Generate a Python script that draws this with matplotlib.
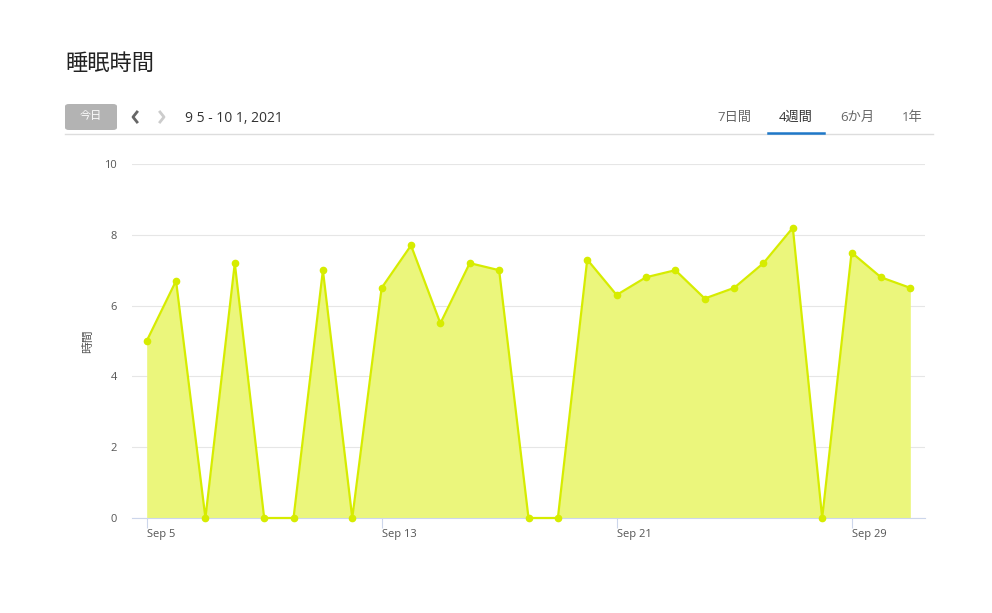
import numpy as np
import matplotlib
matplotlib.use('Agg')
import matplotlib.pyplot as plt
from matplotlib.patches import FancyBboxPatch
from matplotlib.lines import Line2D

W, H = 992, 613

dates = np.arange(np.datetime64('2021-09-05'), np.datetime64('2021-10-02'))
hours = [5.0, 6.7, 0, 7.2, 0, 0, 7.0, 0, 6.5, 7.7, 5.5, 7.2, 7.0, 0,
         0, 7.3, 6.3, 6.8, 7.0, 6.2, 6.5, 7.2, 8.2, 0, 7.5, 6.8, 6.5]
tick_dates = dates[::8]
tick_labels = ['Sep 5', 'Sep 13', 'Sep 21', 'Sep 29']
tabs = ['7日間', '4週間', '6か月', '1年']
tab_x = [734, 796, 857, 912]

LINE = '#d6ec00'
FILL = '#ebf67c'

plt.rcParams['font.family'] = ['Open Sans', 'Noto Sans CJK JP', 'DejaVu Sans']


def px(x, y):
    # pixel (from top-left) to figure fraction
    return x / W, 1 - y / H


fig = plt.figure(figsize=(W / 100, H / 100), dpi=100)
ax = fig.add_axes([132 / W, 1 - 518 / H, (925 - 132) / W, (518 - 164) / H])

ax.fill_between(dates, hours, 0, color=FILL, linewidth=0)
ax.plot(dates, hours, color=LINE, lw=1.6, marker='o', markersize=4.5, clip_on=False, zorder=3)

ax.set_ylim(0, 10)
ax.set_yticks([0, 2, 4, 6, 8, 10])
ax.set_xlim(dates[0] - np.timedelta64(12, 'h'), dates[-1] + np.timedelta64(12, 'h'))
ax.set_xticks(tick_dates)
ax.set_xticklabels(tick_labels, ha='left')
ax.grid(True, axis='y', color='#e6e6e6', lw=0.8)
ax.set_axisbelow(True)
for s in ['top', 'right', 'left']:
    ax.spines[s].set_visible(False)
ax.spines['bottom'].set_color('#ccd6eb')
ax.tick_params(axis='y', length=0, labelsize=8, labelcolor='#555555', pad=11)
ax.tick_params(axis='x', length=7, color='#ccd6eb', labelsize=8, labelcolor='#555555', pad=1)
ax.set_ylabel('時間', fontsize=8.5, color='#555555', labelpad=7)

# header
fig.text(*px(65, 64), '睡眠時間', fontsize=16, color='#222222', va='center', ha='left')

bx, by = px(65, 130)
fig.patches.append(FancyBboxPatch((bx, by), 52 / W, 26 / H, boxstyle='round,pad=0,rounding_size=0.004',
                                  transform=fig.transFigure, facecolor='#b3b3b3', edgecolor='none'))
fig.text(*px(91, 117), '今日', fontsize=8, color='white', ha='center', va='center')

for cx, col in [(135, '#666666'), (162, '#cccccc')]:
    d = -1 if cx == 135 else 1
    xs = [cx - 2 * d, cx + 2 * d, cx - 2 * d]
    ys = [112, 117, 122]
    fx = [x / W for x in xs]
    fy = [1 - y / H for y in ys]
    fig.lines.append(Line2D(fx, fy, transform=fig.transFigure, color=col, lw=2))

fig.text(*px(185, 118), '9 5 - 10 1, 2021', fontsize=10, color='#333333', ha='left', va='center')

fig.lines.append(Line2D([65 / W, 933 / W], [1 - 134 / H] * 2, transform=fig.transFigure,
                        color='#dddddd', lw=1))
for lab, x in zip(tabs, tab_x):
    col = '#333333' if lab == '4週間' else '#666666'
    fig.text(*px(x, 117), lab, fontsize=9.5, color=col, ha='center', va='center')
fig.lines.append(Line2D([768 / W, 824 / W], [1 - 133 / H] * 2, transform=fig.transFigure,
                        color='#1f78c8', lw=1.8))

fig.savefig('out.png', dpi=100)
